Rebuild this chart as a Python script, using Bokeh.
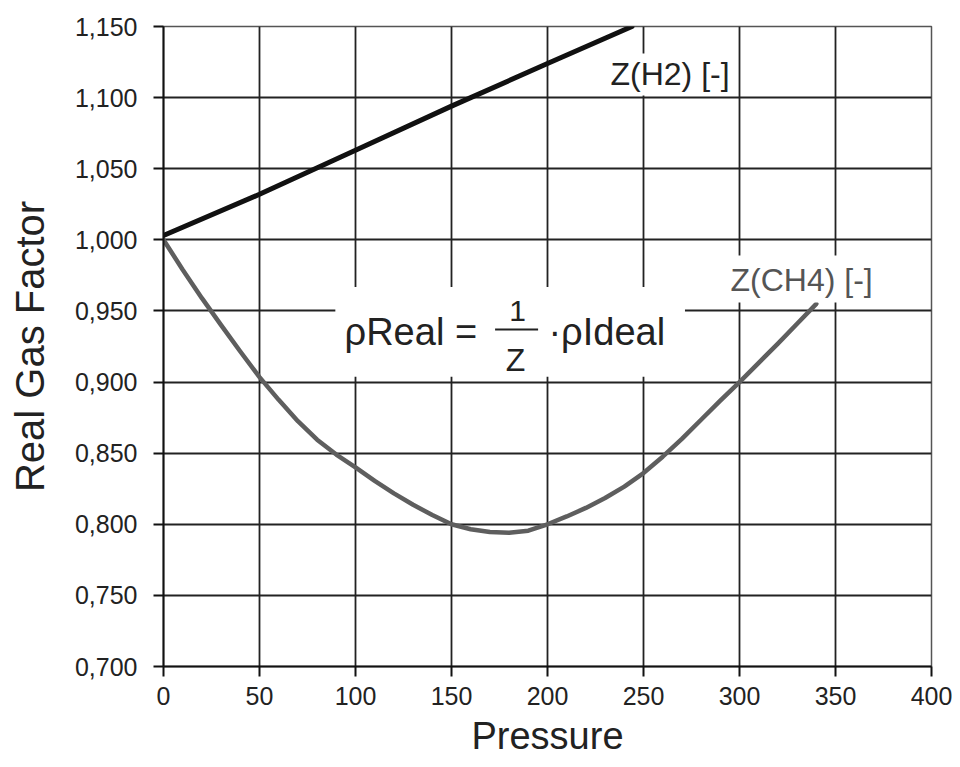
from bokeh.plotting import figure
from bokeh.models import (Range1d, FixedTicker, CustomJSTickFormatter, Label,
                          BoxAnnotation, ColumnDataSource)
from bokeh.embed import file_html
from bokeh.resources import INLINE

# ---- data ----
pressure_h2 = [0, 50, 100, 150, 200, 244]
z_h2 = [1.003, 1.032, 1.063, 1.094, 1.124, 1.150]

pressure_ch4 = [0, 10, 20, 30, 40, 50, 60, 70, 80, 90, 100, 110, 120, 130, 140,
                150, 160, 170, 180, 190, 200, 210, 220, 230, 240, 250, 260, 270,
                280, 290, 300, 310, 320, 330, 340]
z_ch4 = [1.000, 0.979, 0.959, 0.940, 0.9215, 0.9035, 0.8875, 0.8725, 0.8595, 0.849,
         0.840, 0.8305, 0.8217, 0.8137, 0.8065, 0.800, 0.7965, 0.7945, 0.794,
         0.7955, 0.800, 0.8055, 0.8115, 0.8185, 0.8265, 0.836, 0.8475, 0.860,
         0.8735, 0.887, 0.900, 0.9135, 0.927, 0.941, 0.955]

x_ticks = [0, 50, 100, 150, 200, 250, 300, 350, 400]
y_ticks = [0.70, 0.75, 0.80, 0.85, 0.90, 0.95, 1.00, 1.05, 1.10, 1.15]

label_h2 = "Z(H2) [-]"
label_ch4 = "Z(CH4) [-]"
x_title = "Pressure"
y_title = "Real Gas Factor"

FONT = "Liberation Sans"

p = figure(width=952, height=759, output_backend="svg", toolbar_location=None,
           x_range=Range1d(0, 400), y_range=Range1d(0.70, 1.15),
           min_border_left=163, min_border_right=21, min_border_top=26,
           min_border_bottom=93)
p.background_fill_color = "white"
p.border_fill_color = "white"
p.outline_line_color = "#555555"
p.outline_line_width = 1.5

# grids
for g in (p.xgrid, p.ygrid):
    g.grid_line_color = "#222222"
    g.grid_line_width = 1.8
p.xgrid.ticker = FixedTicker(ticks=x_ticks)
p.ygrid.ticker = FixedTicker(ticks=y_ticks)

# axes
p.xaxis.ticker = FixedTicker(ticks=x_ticks)
p.yaxis.ticker = FixedTicker(ticks=y_ticks)
p.yaxis.formatter = CustomJSTickFormatter(code="return tick.toFixed(3).replace('.', ',');")
for ax in (p.xaxis, p.yaxis):
    ax.axis_line_color = "#111111"
    ax.axis_line_width = 2
    ax.major_tick_line_color = "#111111"
    ax.major_tick_line_width = 2
    ax.major_tick_out = 10
    ax.major_tick_in = 0
    ax.minor_tick_line_color = None
    ax.major_label_text_font = FONT
    ax.major_label_text_font_size = "25px"
    ax.major_label_text_color = "#222222"
    ax.axis_label_text_font = FONT
    ax.axis_label_text_font_style = "normal"
    ax.axis_label_text_color = "#222222"

p.xaxis.axis_label = x_title
p.xaxis.axis_label_text_font_size = "38px"
p.xaxis.major_label_standoff = 10
p.xaxis.axis_label_standoff = 7

p.yaxis.axis_label = y_title
p.yaxis.axis_label_text_font_size = "40px"
p.yaxis.major_label_standoff = 16
p.yaxis.axis_label_standoff = 20

# curves
src_h2 = ColumnDataSource(dict(x=pressure_h2, y=z_h2))
src_ch4 = ColumnDataSource(dict(x=pressure_ch4, y=z_ch4))
p.line("x", "y", source=src_ch4, line_color="#5e5e5e", line_width=4.5,
       line_join="round", line_cap="round")
p.line("x", "y", source=src_h2, line_color="#111111", line_width=5,
       line_join="round", line_cap="round")

# white boxes behind texts
p.add_layout(BoxAnnotation(left=229.7, right=296.9, top=1.131, bottom=1.1015,
                           fill_color="white", fill_alpha=1, line_color=None))
p.add_layout(BoxAnnotation(left=292.2, right=373.4, top=0.989, bottom=0.956,
                           fill_color="white", fill_alpha=1, line_color=None))
p.add_layout(BoxAnnotation(left=89.5, right=271.6, top=0.9668, bottom=0.9038,
                           fill_color="white", fill_alpha=1, line_color=None))

# series labels
p.add_layout(Label(x=232.8, y=1.1165, text=label_h2, text_font=FONT,
                   text_font_size="32px", text_color="#222222",
                   text_baseline="alphabetic", text_align="left"))
p.add_layout(Label(x=295.3, y=0.9715, text=label_ch4, text_font=FONT,
                   text_font_size="32px", text_color="#555555",
                   text_baseline="alphabetic", text_align="left"))

# formula
p.add_layout(Label(x=94.3, y=0.9352, text="\u03c1Real =", text_font=FONT,
                   text_font_size="38px", text_color="#222222",
                   text_baseline="alphabetic", text_align="left"))
p.add_layout(Label(x=184.4, y=0.9500, text="1", text_font=FONT,
                   text_font_size="30px", text_color="#222222",
                   text_baseline="alphabetic", text_align="center"))
p.add_layout(BoxAnnotation(left=172.7, right=195.1, top=0.9376, bottom=0.9362,
                           fill_color="#222222", fill_alpha=1, line_color=None))
p.add_layout(Label(x=183.3, y=0.9155, text="Z", text_font=FONT,
                   text_font_size="32px", text_color="#222222",
                   text_baseline="alphabetic", text_align="center"))
p.add_layout(Label(x=200.5, y=0.9352, text="\u00b7\u03c1Ideal", text_font=FONT,
                   text_font_size="38px", text_color="#222222",
                   text_baseline="alphabetic", text_align="left"))

open("out.html", "w").write(file_html(p, INLINE))
